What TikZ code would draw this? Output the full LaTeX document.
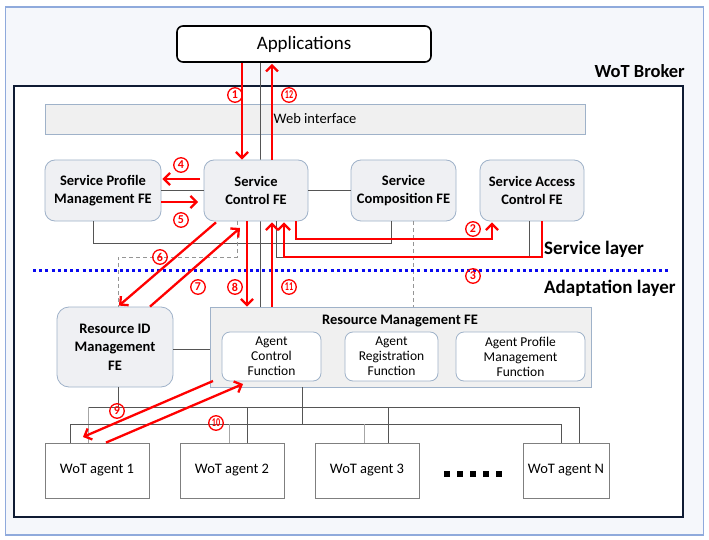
\documentclass[tikz,border=0pt]{standalone}
\usepackage{fontspec}
\setmainfont{Carlito}
\usetikzlibrary{arrows.meta,calc}
\definecolor{outerbg}{HTML}{F5F7FB}
\definecolor{outerline}{HTML}{8FAADC}
\definecolor{navy}{HTML}{0F1B33}
\definecolor{fefill}{HTML}{EFF0F3}
\definecolor{feline}{HTML}{9FB2C9}
\definecolor{webfill}{HTML}{F0F0F0}
\definecolor{wiredark}{HTML}{555555}
\definecolor{wirelight}{HTML}{A6A6A6}
\definecolor{agentline}{HTML}{7F7F7F}
\definecolor{arrred}{HTML}{FF0000}
\definecolor{dotblue}{HTML}{0A0AF0}
\newcommand{\twodig}[1]{\scalebox{0.68}[1]{#1}}
\begin{document}
\begin{tikzpicture}[x=1pt,y=-1pt,
  fe/.style={draw=feline, fill=fefill, rounded corners=10pt, line width=0.8pt,
    font=\fontsize{14.5}{18.5}\selectfont\bfseries, align=center,
    minimum width=104pt, minimum height=61pt, inner sep=0pt},
  subfn/.style={draw=feline, fill=white, rounded corners=8pt, line width=0.8pt,
    font=\fontsize{13.5}{15}\selectfont, align=center,
    minimum height=49pt, inner sep=0pt},
  agent/.style={draw=agentline, fill=white, line width=0.8pt,
    minimum width=104pt, minimum height=55pt, inner sep=0pt,
    font=\fontsize{14.5}{16}\selectfont},
  wire/.style={draw=wiredark, line width=0.8pt},
  wirel/.style={draw=wirelight, line width=1pt},
  dwire/.style={draw=wirelight!90!black, line width=0.8pt, dash pattern=on 4pt off 3pt},
  redarr/.style={draw=arrred, line width=2.3pt, -{Straight Barb[length=6pt,width=12pt]}},
  num/.style={circle, draw=arrred, text=arrred, line width=1.3pt, inner sep=0pt,
    minimum size=14.5pt, font=\fontsize{12}{12}\selectfont\bfseries},
  layerlbl/.style={anchor=west, font=\fontsize{19}{20}\selectfont\bfseries, inner sep=0pt}
]
\useasboundingbox (0,0) rectangle (709,540);
% frames
\node[draw=outerline, fill=outerbg, line width=1.5pt, minimum width=698pt, minimum height=528pt, inner sep=0pt] (outer) at (354.5,271) {};
\node[draw=navy, fill=white, line width=2.2pt, minimum width=669pt, minimum height=431pt, inner sep=0pt] (broker) at (348.5,301.5) {};
\node[anchor=east, font=\fontsize{18.5}{20}\selectfont\bfseries, inner sep=0pt] (brokerlbl) at (685,71) {WoT Broker};

% applications & web interface
\node[draw=black, fill=white, line width=1.6pt, rounded corners=6pt, minimum width=254pt, minimum height=36pt, inner sep=0pt,
  font=\fontsize{19}{20}\selectfont] (app) at (304,44) {Applications};
\node[draw=feline, fill=webfill, line width=0.8pt, minimum width=540pt, minimum height=30pt, inner sep=0pt,
  font=\fontsize{14.5}{16}\selectfont] (web) at (315,119) {Web interface};

% resource management box first (for vertical backbone)
\node[draw=feline, fill=webfill, line width=0.8pt, minimum width=381pt, minimum height=80pt, inner sep=0pt] (rm) at (400.5,347) {};
\coordinate (xb) at (260,0);
\draw[wire] (app.south -| xb) -- (rm.north -| xb);

% service layer FEs
\node[fe, minimum width=116pt] (sp) at (103,190.5) {Service Profile\\Management FE};
\node[fe] (sc) at (256,190.5) {Service\\Control FE};
\node[fe, minimum width=105pt] (scomp) at (403.5,190.5) {Service\\Composition FE};
\node[fe] (sac) at (532,190.5) {Service Access\\Control FE};

% adaptation layer
\node[fe, minimum width=116pt, minimum height=80pt, rounded corners=12pt] (rid) at (115,347) {Resource ID\\Management\\FE};
\node[font=\fontsize{14.5}{16}\selectfont\bfseries, inner sep=0pt] (rmlbl) at (400,321) {Resource Management FE};
\node[subfn, minimum width=99pt] (acf) at (271.5,356.5) {Agent\\Control\\Function};
\node[subfn, minimum width=93pt] (arf) at (391.5,356.5) {Agent\\Registration\\Function};
\node[subfn, minimum width=129pt] (apf) at (520.5,356.5) {Agent Profile\\Management\\Function};

% agents
\node[agent] (ag1) at (97,470.5) {WoT agent 1};
\node[agent] (ag2) at (232,470.5) {WoT agent 2};
\node[agent] (ag3) at (367,470.5) {WoT agent 3};
\node[agent, minimum width=86pt] (agN) at (566,470.5) {WoT agent N};
\foreach \i [count=\k] in {447,460,473,486,499}
  \node[fill=black, minimum size=5.5pt, inner sep=0pt] (dot\k) at (\i,474) {};

% gray wires in service layer
\draw[wire] (sp.east) -- (sc.west);
\draw[wire] (sc.east) -- (scomp.west);
\coordinate (w1) at (93,243);
\coordinate (w2) at (391,243);
\draw[wire] (sp.south -| w1) -- (w1) -- (w2) -- (scomp.south -| w2);
\coordinate (w3) at (276,257);
\coordinate (w4) at (529,257);
\draw[wire] (sc.south -| w3) -- (w3) -- (w4) -- (sac.south -| w4);
\coordinate (d1) at (237,257);
\coordinate (d2) at (118,257);
\draw[dwire] (sc.south -| d1) -- (d1) -- (d2) -- (rid.north -| d2);
\coordinate (d3) at (413,0);
\draw[dwire] (scomp.south -| d3) -- (rm.north -| d3);

% adaptation wires
\draw[wire] (rid.east |- 0,349) -- (rm.west |- 0,349);
\coordinate (ba1) at (88,407);
\coordinate (ba2) at (579,407);
\coordinate (ridx) at (118,407);
\draw[wire] (ba1) -- (ba2);
\draw[wire] (rid.south -| ridx) -- (ridx);
\draw[wirel] (ba1) -- (ag1.north -| ba1);
\coordinate (bad2) at (247,407);
\coordinate (bad3) at (388,407);
\draw[wire] (bad2) -- (ag2.north -| bad2);
\draw[wire] (bad3) -- (ag3.north -| bad3);
\draw[wire] (ba2) -- (agN.north -| ba2);
\coordinate (bb1) at (70,424);
\coordinate (bb2) at (561,424);
\coordinate (rmx) at (302,424);
\draw[wire] (bb1) -- (bb2);
\draw[wire] (rm.south -| rmx) -- (rmx);
\draw[wire] (bb1) -- (ag1.north -| bb1);
\coordinate (bbd2) at (229,424);
\coordinate (bbd3) at (364,424);
\draw[wirel] (bbd2) -- (ag2.north -| bbd2);
\draw[wirel] (bbd3) -- (ag3.north -| bbd3);
\draw[wire] (bb2) -- (agN.north -| bb2);

% layer separator
\coordinate (sepL) at (33,270);
\coordinate (sepR) at (670,270);
\draw[dotblue, line width=3pt, dash pattern=on 3pt off 3.2pt] (sepL) -- (sepR);
\node[layerlbl] (slayer) at (544,249) {Service layer};
\node[layerlbl] (alayer) at (544,288) {Adaptation layer};

% red arrows
\coordinate (c1) at (242,0);
\coordinate (c12) at (272,0);
\draw[redarr] (app.south -| c1) -- (sc.north -| c1);
\draw[redarr] (sc.north -| c12) -- ([yshift=-1pt]app.south -| c12);
\coordinate (c4) at (200,179);
\coordinate (c5) at (198,202);
\draw[redarr] (c4) -- ([xshift=1pt]c4 -| sp.east);
\draw[redarr] (c5 -| sp.east) -- (c5);
\coordinate (c2a) at (296,239);
\coordinate (c2b) at (492,239);
\draw[redarr] (sc.south -| c2a) -- (c2a) -- (c2b) -- ([yshift=-1pt]sac.south -| c2b);
\coordinate (c3a) at (542,257);
\coordinate (c3b) at (284,257);
\draw[redarr] (sac.south -| c3a) -- (c3a) -- (c3b) -- ([yshift=-1pt]sc.south -| c3b);
\coordinate (c6a) at (216,0);
\coordinate (c6b) at (119,0);
\draw[redarr] ([yshift=-1pt]sc.south -| c6a) -- ([yshift=1pt]rid.north -| c6b);
\coordinate (c7a) at (150,0);
\coordinate (c7b) at (240,228);
\draw[redarr] (rid.north -| c7a) -- (c7b);
\coordinate (c8) at (247,0);
\coordinate (c11) at (272,0);
\draw[redarr] (sc.south -| c8) -- (rm.north -| c8);
\draw[redarr] (rm.north -| c11) -- ([yshift=-1pt]sc.south -| c11);
\coordinate (c9a) at (213,381);
\coordinate (c9b) at (83,437);
\draw[redarr] (c9a) -- (c9b);
\coordinate (c10a) at (106,0);
\coordinate (c10b) at (243,384);
\draw[redarr] (ag1.north -| c10a) -- (c10b);

% number labels
\node[num] (n1) at (235,95) {1};
\node[num] (n12) at (289,95) {\twodig{12}};
\node[num] (n4) at (181,165) {4};
\node[num] (n5) at (181,220) {5};
\node[num] (n2) at (473,229) {2};
\node[num] (n3) at (473,276) {3};
\node[num] (n6) at (160,257) {6};
\node[num] (n7) at (198,287) {7};
\node[num] (n8) at (235,287) {8};
\node[num] (n11) at (289,287) {\twodig{11}};
\node[num] (n9) at (117,411) {9};
\node[num] (n10) at (216,423) {\twodig{10}};
\end{tikzpicture}
\end{document}
